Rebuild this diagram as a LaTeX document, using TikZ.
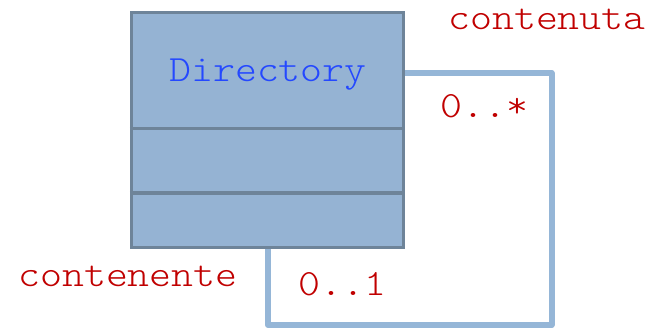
\documentclass[tikz,border=0pt]{standalone}
\usepackage{fontspec}
\setmonofont{Latin Modern Mono Light}[FakeStretch=1.13]
\definecolor{classfill}{HTML}{95B3D3}
\definecolor{classedge}{HTML}{6E8499}
\definecolor{assocline}{HTML}{95B6D7}
\definecolor{namecol}{HTML}{2448FF}
\definecolor{rolecol}{HTML}{C00000}
\tikzset{
  classbox/.style={draw=classedge, fill=classfill, line width=3.5pt, rectangle, inner sep=0pt},
  divider/.style={draw=classedge, line width=3.5pt},
  assoc/.style={draw=assocline, line width=6pt, line join=round},
  classname/.style={text=namecol, font=\ttfamily\fontsize{37}{40}\selectfont, inner sep=0pt, anchor=base},
  rolelabel/.style={text=rolecol, font=\ttfamily\fontsize{37}{40}\selectfont, inner sep=0pt, anchor=base west},
}
\begin{document}
\begin{tikzpicture}[x=1pt,y=-1pt]
\useasboundingbox (0,0) rectangle (666,331);
% reflexive association, drawn first so the class box covers its ends
\coordinate (startR) at (400,73);
\coordinate (cornerTR) at (551.5,73);
\coordinate (cornerBR) at (551.5,325);
\coordinate (cornerBL) at (268,325);
\coordinate (endB) at (268,245);
\draw[assoc] (startR) -- (cornerTR) -- (cornerBR) -- (cornerBL) -- (endB);
% class Directory with its three compartments
\node[classbox, minimum width=272pt, minimum height=235pt] (dir) at (267.5,130) {};
\draw[divider] (dir.west |- 0,128.3) coordinate (d1l) -- (dir.east |- 0,128.3) coordinate (d1r);
\draw[divider] (dir.west |- 0,193) coordinate (d2l) -- (dir.east |- 0,193) coordinate (d2r);
\node[classname] (name) at (268,82) {Directory};
% role names and multiplicities
\node[rolelabel] (contenuta) at (448,30) {contenuta};
\node[rolelabel] (manyMult) at (440,118) {0..*};
\node[rolelabel] (contenente) at (18,286) {contenente};
\node[rolelabel] (oneMult) at (298,295) {0..1};
\end{tikzpicture}
\end{document}
